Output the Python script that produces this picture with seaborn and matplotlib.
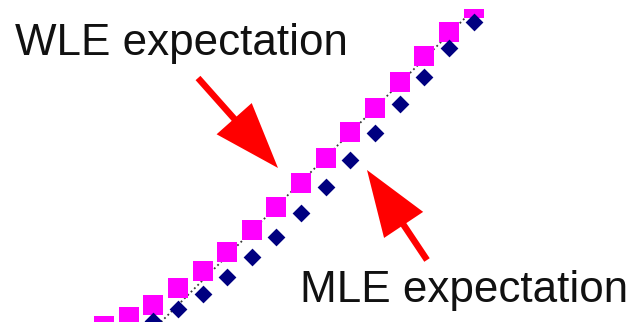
import matplotlib
matplotlib.use("Agg")
import matplotlib.pyplot as plt
import seaborn as sns
from matplotlib.patches import FancyArrow

# True ability values and expected estimates
theta_wle = [-1.75, -1.5, -1.25, -1.0, -0.75, -0.5, -0.25, 0.0,
             0.25, 0.5, 0.75, 1.0, 1.25, 1.5, 1.75, 2.0]
wle_expect = [-1.21, -1.12, -1.00, -0.83, -0.65, -0.46, -0.24, -0.01,
              0.24, 0.49, 0.76, 1.00, 1.26, 1.53, 1.77, 2.01]

theta_mle = [-1.25, -1.0, -0.75, -0.5, -0.25, 0.0, 0.25,
             0.5, 0.75, 1.0, 1.25, 1.5, 1.75, 2.0]
mle_expect = [-1.16, -1.04, -0.89, -0.72, -0.51, -0.31, -0.07,
              0.20, 0.47, 0.75, 1.04, 1.31, 1.61, 1.87]

labels = ["WLE expectation", "MLE expectation"]

sns.set_theme(style="white")
plt.rcParams["font.family"] = ["Liberation Sans", "DejaVu Sans"]

W, H = 642, 322
fig = plt.figure(figsize=(W / 100, H / 100), dpi=100)
fig.patch.set_facecolor("white")

ax = fig.add_axes([0, 0, 1, 313 / H])
ax.axline((0, 0), slope=1, color="#3a3a3a", lw=1.3,
          ls=(0, (1, 1.6)), zorder=1)
sns.scatterplot(x=theta_wle, y=wle_expect, marker="s", s=190,
                color="#FF00FF", linewidth=0, ax=ax, zorder=2)
sns.scatterplot(x=theta_mle, y=mle_expect, marker="D", s=82,
                color="#000080", linewidth=0, ax=ax, zorder=3)
ax.set_xlim(-2.805, 3.708)
ax.set_ylim(-1.172, 2.004)
ax.axis("off")

# Annotation layer in pixel units (y downward)
over = fig.add_axes([0, 0, 1, 1])
over.set_xlim(0, W)
over.set_ylim(H, 0)
over.axis("off")

def arrow(tail, tip):
    over.add_patch(FancyArrow(tail[0], tail[1], tip[0] - tail[0], tip[1] - tail[1],
                              width=6.5, head_width=47, head_length=66,
                              length_includes_head=True, color="#FF0000",
                              lw=0, zorder=5))

arrow((198, 78), (278, 168))
arrow((427, 260), (367, 170))

over.text(15, 55, labels[0], fontsize=31.7, color="#111111",
          ha="left", va="baseline")
over.text(300, 302, labels[1], fontsize=31.7, color="#111111",
          ha="left", va="baseline")

fig.savefig("out.png", dpi=100, facecolor="white")
